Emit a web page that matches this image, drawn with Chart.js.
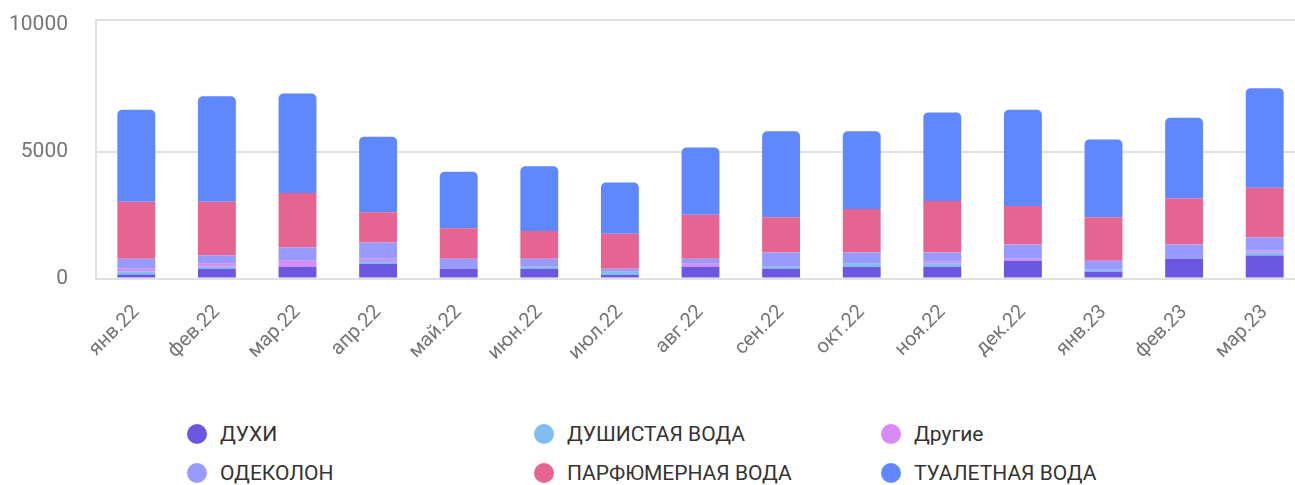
<!DOCTYPE html>
<html>
<head>
<meta charset="utf-8">
<script src="https://cdn.jsdelivr.net/npm/chart.js@4"></script>
<style>
  body { margin: 0; background: #fff; font-family: Roboto, sans-serif; }
  #wrap { position: relative; width: 1295px; height: 485px; overflow: hidden; }
  #box { position: absolute; left: 0; top: 0; width: 1305px; height: 380px; }
  #legend {
    position: absolute; left: 187px; top: 422px;
    display: grid; grid-template-columns: 347px 347px 347px; row-gap: 15px;
  }
  .item { display: flex; align-items: center; height: 24px; font-size: 21px; color: #333; }
  .dot { width: 20px; height: 20px; border-radius: 50%; margin-right: 13px; }
</style>
</head>
<body>
<div id="wrap">
  <div id="box"><canvas id="chart"></canvas></div>
  <div id="legend"></div>
</div>
<script>
const months = ["янв.22", "фев.22", "мар.22", "апр.22", "май.22", "июн.22", "июл.22", "авг.22",
  "сен.22", "окт.22", "ноя.22", "дек.22", "янв.23", "фев.23", "мар.23"];

const dukhi     = [160, 387, 467, 586, 387, 387, 148, 467, 387, 467, 467, 706, 267, 785, 905];
const dushVoda  = [119, 80, 0, 108, 0, 80, 119, 0, 80, 119, 119, 0, 80, 0, 120];
const drugie    = [108, 119, 239, 91, 0, 0, 0, 119, 0, 0, 80, 79, 0, 0, 80];
const odekolon  = [398, 319, 518, 638, 398, 318, 120, 199, 558, 439, 359, 559, 359, 559, 518];
const parfVoda  = [2245, 2125, 2153, 1197, 1197, 1089, 1383, 1727, 1395, 1714, 2033, 1515, 1714, 1822, 1954];
const tualVoda  = [3629, 4163, 3920, 2978, 2233, 2552, 2018, 2659, 3389, 3070, 3497, 3800, 3070, 3174, 3935];

const yTicks = [0, 5000, 10000];
const yTop = 10200;

const series = [
  { label: "ДУХИ", data: dukhi, color: "#6C57E0" },
  { label: "ДУШИСТАЯ ВОДА", data: dushVoda, color: "#7FBEEE" },
  { label: "Другие", data: drugie, color: "#D98AF7" },
  { label: "ОДЕКОЛОН", data: odekolon, color: "#989AFD" },
  { label: "ПАРФЮМЕРНАЯ ВОДА", data: parfVoda, color: "#E66491" },
  { label: "ТУАЛЕТНАЯ ВОДА", data: tualVoda, color: "#5F87FE" },
];

const datasets = series.map((s, i) => ({
  label: s.label,
  data: s.data,
  backgroundColor: s.color,
  borderWidth: 0,
  barPercentage: 0.47,
  categoryPercentage: 1,
  borderRadius: i === series.length - 1 ? { topLeft: 5, topRight: 5 } : 0,
  borderSkipped: false,
}));

const gridColor = "#e0e0e0";
const tickColor = "#757575";

new Chart(document.getElementById("chart"), {
  type: "bar",
  data: { labels: months, datasets: datasets },
  options: {
    responsive: true,
    maintainAspectRatio: false,
    animation: false,
    layout: { padding: { left: 8, top: 20, right: 0, bottom: 1 } },
    scales: {
      x: {
        stacked: true,
        grid: { display: false },
        border: { color: gridColor, width: 2 },
        afterFit: (scale) => { scale.paddingLeft = 0; scale.paddingRight = 0; },
        ticks: {
          color: tickColor,
          font: { family: "Roboto", size: 20 },
          maxRotation: 45,
          minRotation: 45,
          padding: 14,
        },
      },
      y: {
        stacked: true,
        min: 0,
        max: yTop,
        afterBuildTicks: (axis) => {
          axis.ticks = yTicks.concat([yTop]).map((v) => ({ value: v }));
        },
        afterFit: (scale) => { scale.paddingTop = 0; scale.width = 88; },
        grid: {
          drawTicks: false,
          lineWidth: 2,
          color: (ctx) => (ctx.tick && ctx.tick.value === 10000 ? "rgba(0,0,0,0)" : gridColor),
        },
        border: { color: gridColor, width: 2 },
        ticks: {
          color: tickColor,
          font: { family: "Roboto", size: 21 },
          padding: 28,
          callback: (v) => (yTicks.includes(v) ? String(v) : ""),
        },
      },
    },
    plugins: {
      legend: { display: false },
      tooltip: { enabled: false },
    },
  },
});

const legend = document.getElementById("legend");
series.forEach((s) => {
  const item = document.createElement("div");
  item.className = "item";
  const dot = document.createElement("span");
  dot.className = "dot";
  dot.style.background = s.color;
  const txt = document.createElement("span");
  txt.textContent = s.label;
  item.appendChild(dot);
  item.appendChild(txt);
  legend.appendChild(item);
});
</script>
</body>
</html>
